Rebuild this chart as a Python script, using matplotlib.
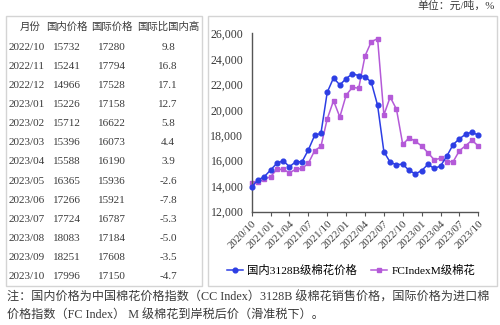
import matplotlib
matplotlib.use("Agg")
import matplotlib.pyplot as plt
from matplotlib.patches import Rectangle

plt.rcParams['font.family'] = ['Liberation Serif', 'Noto Sans CJK SC', 'DejaVu Sans']

# ---- data ----
months = ["2020/10", "2020/11", "2020/12", "2021/01", "2021/02", "2021/03",
          "2021/04", "2021/05", "2021/06", "2021/07", "2021/08", "2021/09",
          "2021/10", "2021/11", "2021/12", "2022/01", "2022/02", "2022/03",
          "2022/04", "2022/05", "2022/06", "2022/07", "2022/08", "2022/09",
          "2022/10", "2022/11", "2022/12", "2023/01", "2023/02", "2023/03",
          "2023/04", "2023/05", "2023/06", "2023/07", "2023/08", "2023/09",
          "2023/10"]

# earlier months (before the table period)
domestic_early = [13960, 14490, 14750, 15270, 15800, 16000, 15530, 15920,
                  15920, 16850, 17990, 18150, 21370, 22500, 21950, 22440,
                  22830, 22680, 22600, 22160, 20350, 16710, 15880, 15690]
intl_early = [14230, 14360, 14540, 14750, 15320, 15320, 15060, 15320,
              15400, 15800, 16790, 17130, 19280, 20710, 19430, 21140,
              21760, 21690, 24220, 25340, 25580, 19590, 21000, 20040]

# table period
table_months = ["2022/10", "2022/11", "2022/12", "2023/01", "2023/02",
                "2023/03", "2023/04", "2023/05", "2023/06", "2023/07",
                "2023/08", "2023/09", "2023/10"]
table_domestic = [15732, 15241, 14966, 15226, 15712, 15396, 15588, 16365,
                  17266, 17724, 18083, 18251, 17996]
table_intl = [17280, 17794, 17528, 17158, 16622, 16073, 16190, 15936,
              15921, 16787, 17184, 17608, 17150]
table_diff = [9.8, 16.8, 17.1, 12.7, 5.8, 4.4, 3.9, -2.6, -7.8, -5.3,
              -5.0, -3.5, -4.7]
table_header = ["月份", "国内价格", "国际价格", "国际比国内高"]

domestic = domestic_early + table_domestic
intl = intl_early + table_intl

series_names = ["国内3128B级棉花价格", "FCIndexM级棉花"]
unit_text = "单位：元/吨，%"
note_lines = ["注：国内价格为中国棉花价格指数（CC Index）3128B 级棉花销售价格，国际价格为进口棉",
              "价格指数（FC Index） M 级棉花到岸税后价（滑准税下）。"]

W, H = 500, 325
fig = plt.figure(figsize=(W / 100, H / 100), dpi=100)


def fx(px):
    return px / W


def fy(py):
    return 1 - py / H


box_color = "#d4d4d4"
text_color = "#3a3a3a"

# ---- boxes ----
fig.patches.append(Rectangle((fx(6), fy(286)), fx(202) - fx(6), fy(16) - fy(286),
                             transform=fig.transFigure, fill=False,
                             edgecolor=box_color, linewidth=1.0))
fig.patches.append(Rectangle((fx(208), fy(286)), fx(497) - fx(208), fy(16) - fy(286),
                             transform=fig.transFigure, fill=False,
                             edgecolor=box_color, linewidth=1.0))

# ---- table ----
col_x = [30, 66.7, 111.7, 168]
header_y = 26.7
for x, t in zip(col_x, table_header):
    fig.text(fx(x), fy(header_y), t, ha="center", va="center",
             fontsize=7.5, color=text_color)

row0 = 47.3
dy = 19.1
for i in range(len(table_months)):
    y = fy(row0 + i * dy)
    fig.text(fx(8.3), y, table_months[i], ha="left", va="center",
             fontsize=8, color=text_color)
    fig.text(fx(col_x[1]), y, str(table_domestic[i]), ha="center", va="center",
             fontsize=8, color=text_color)
    fig.text(fx(col_x[2]), y, str(table_intl[i]), ha="center", va="center",
             fontsize=8, color=text_color)
    fig.text(fx(col_x[3]), y, f"{table_diff[i]:.1f}", ha="center", va="center",
             fontsize=8, color=text_color)

# ---- line chart ----
ax = fig.add_axes([fx(251.7), fy(211.7), fx(478.3) - fx(251.7), fy(33.3) - fy(211.7)])
x = list(range(len(months)))
blue = "#2d3ee4"
purple = "#b45ad8"
ax.plot(x, domestic, color=blue, linewidth=1.1, marker="o", markersize=3.4,
        label=series_names[0], clip_on=False, zorder=3)
ax.plot(x, intl, color=purple, linewidth=1.1, marker="s", markersize=3.2,
        label=series_names[1], clip_on=False, zorder=2)

ax.set_xlim(0, len(months) - 1)
ax.set_ylim(12000, 26000)
ax.set_yticks(range(12000, 26001, 2000))
ax.set_yticklabels([f"{v:,}" for v in range(12000, 26001, 2000)],
                   fontsize=8.6, color=text_color)
ax.tick_params(axis="y", length=0, pad=6)
ax.set_xticks(x[::3])
ax.set_xticklabels(months[::3], rotation=45, ha="right", va="top",
                   rotation_mode="anchor", fontsize=7.8, color=text_color)
ax.tick_params(axis="x", length=3, width=0.8, color="#555555", pad=2)
for s in ["top", "right"]:
    ax.spines[s].set_visible(False)
for s in ["left", "bottom"]:
    ax.spines[s].set_color("#555555")
    ax.spines[s].set_linewidth(1.0)
ax.patch.set_alpha(0)

fig.legend(loc="center", bbox_to_anchor=(fx(351), fy(270)), ncol=2,
           frameon=False, handlelength=1.4, handletextpad=0.4,
           columnspacing=1.2, prop={"size": 8.2})

# ---- header unit + footnote ----
fig.text(fx(495), fy(6), unit_text, ha="right", va="center",
         fontsize=7.8, color=text_color)
fig.text(fx(7), fy(297), note_lines[0], ha="left", va="center",
         fontsize=8.7, color=text_color)
fig.text(fx(7), fy(315), note_lines[1], ha="left", va="center",
         fontsize=8.7, color=text_color)

fig.savefig("out.png", dpi=100)
